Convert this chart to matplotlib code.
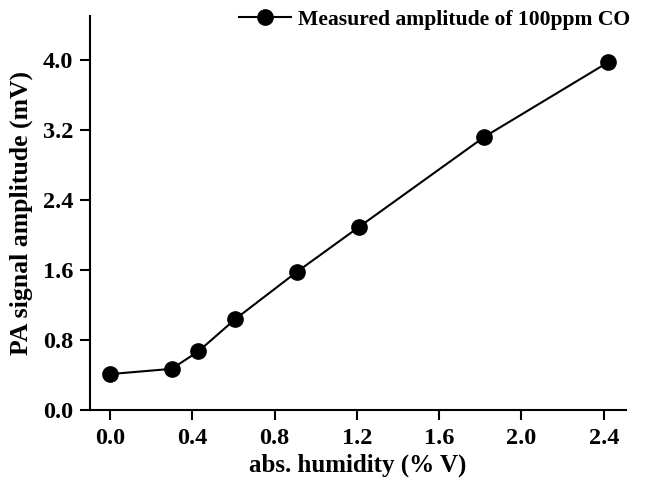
import matplotlib.pyplot as plt

humidity = [0.0, 0.30, 0.43, 0.61, 0.91, 1.21, 1.82, 2.42]
amplitude = [0.41, 0.47, 0.67, 1.04, 1.58, 2.09, 3.12, 3.97]

plt.rcParams['font.family'] = ['Liberation Serif', 'DejaVu Serif']
plt.rcParams['font.weight'] = 'bold'

fig = plt.figure(figsize=(6.52, 4.79), dpi=100)
ax = fig.add_axes([90 / 652, 69 / 479, 536 / 652, 394 / 479])

ax.plot(humidity, amplitude, '-o', color='black', lw=1.5, ms=11,
        label='Measured amplitude of 100ppm CO')

ax.set_xlim(-0.097, 2.508)
ax.set_ylim(0, 4.5)
ax.set_xticks([0.0, 0.4, 0.8, 1.2, 1.6, 2.0, 2.4])
ax.set_yticks([0.0, 0.8, 1.6, 2.4, 3.2, 4.0])
ax.xaxis.set_major_formatter(plt.FormatStrFormatter('%.1f'))
ax.yaxis.set_major_formatter(plt.FormatStrFormatter('%.1f'))
ax.tick_params(labelsize=17.5, width=1.5, length=7)
ax.tick_params(axis='x', pad=6)
ax.tick_params(axis='y', pad=5)
for s in ['top', 'right']:
    ax.spines[s].set_visible(False)
for s in ['left', 'bottom']:
    ax.spines[s].set_linewidth(1.5)

ax.set_xlabel('abs. humidity (% V)', fontsize=18, fontweight='bold', labelpad=3)
ax.set_ylabel('PA signal amplitude (mV)', fontsize=18.5, fontweight='bold', labelpad=7)

ax.legend(loc='upper right', bbox_to_anchor=(1.045, 1.065), frameon=False,
          fontsize=15.6, handlelength=2.4, handletextpad=0.35)

fig.savefig('out.png', dpi=100)
